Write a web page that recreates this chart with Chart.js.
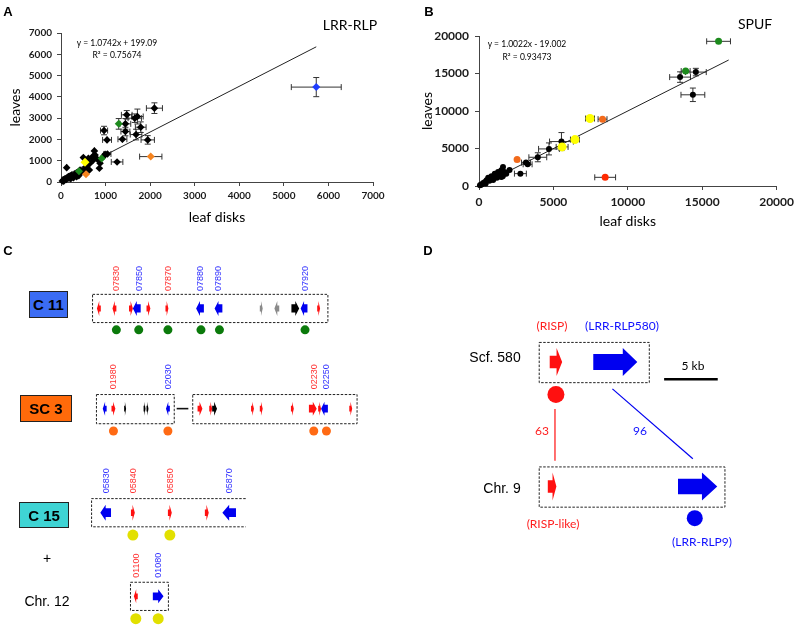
<!DOCTYPE html>
<html><head><meta charset="utf-8">
<script src="https://cdn.jsdelivr.net/npm/chart.js@4.4.1/dist/chart.umd.min.js"></script>
<style>
html,body{margin:0;padding:0;background:#fff;}
#fig{position:relative;width:799px;height:632px;overflow:hidden;background:#fff;font-family:'Liberation Sans',Arial,sans-serif;color:#000;}
canvas{position:absolute;}
.t{position:absolute;white-space:nowrap;transform:translate(-50%,-50%);line-height:1;}
.box{position:absolute;box-sizing:border-box;border:1.5px solid #222;font-weight:bold;font-size:15px;display:flex;align-items:center;justify-content:center;font-family:'Liberation Sans',Arial,sans-serif;}
</style></head>
<body><div id="fig">
<canvas id="cA" width="400" height="230" style="left:0;top:0"></canvas>
<canvas id="cB" width="399" height="230" style="left:400px;top:0"></canvas>
<canvas id="cC" width="400" height="402" style="left:0;top:230px"></canvas>
<canvas id="cD" width="399" height="402" style="left:400px;top:230px"></canvas>
</div>
<script>
// ---------------- DATA ----------------
// Panel A (LRR-RLP): [leaf disks, leaves, xErr, yErr]
const aBlack = [[2096,3469,180,250],[1475,3155,120,200],[1714,3076,130,350],[1655,2998,150,200],[1445,2731,120,250],
 [1789,2574,120,250],[1445,2370,100,200],[966,2417,80,200],[1684,2229,130,250],[1946,1978,150,200],[1033,1978,100,150],
 [1378,2009,100,150],[749,1460,60,150],[502,1146,60,100],[1041,1318,80,120],[1258,942,130,80],[816,1067,60,100],
 [861,644,60,80],[636,565,50,60],[127,675,40,150],[764,1271,50,100],[651,879,50,80],[726,1036,50,80],[352,408,40,50],
 [240,330,30,40],[165,251,30,30],[90,141,20,20],[52,94,15,15],[30,47,10,10],[202,283,30,30],[314,377,30,40],
 [464,487,40,50],[576,722,50,60],[711,1193,60,100],[876,879,60,80],[951,1193,60,80],[614,1114,50,80],[539,644,50,60],
 [427,565,40,60],[280,200,30,30],[120,120,20,20],[180,180,20,20],[400,300,30,30],[350,250,30,30],[220,160,20,20],
 [60,40,10,10],[990,1300,60,100]];
const aGreen = [[1295,2731,60,250],[913,1099,60,100],[404,502,40,50]];
const aYellow = [[539,926,50,80]];
const aOrange = [[2014,1193,250,100],[561,361,40,50]];
const aBlue = [[5727,4458,560,450]];
const aFit = [[0,199],[5727,6351]];          // y = 1.0742x + 199.09
const aTicks = [0,1000,2000,3000,4000,5000,6000,7000];

// Panel B (SPUF)
const bBlack = [[14573,15188,700,500],[13513,14520,700,700],[14374,12160,800,900],[5542,5924,800,1200],[4703,4944,700,800],
 [3952,3830,600,600],[3157,3118,300,300],[3268,2895,300,300],[2782,1648,400,200],[2053,2138,150,150],[1612,2539,100,200],
 [1391,1648,100,150],[1170,1425,100,100],[949,1203,80,100],[729,980,80,80],[508,757,60,60],[287,401,40,40],[132,178,30,30],
 [1501,2093,100,150],[1281,1871,100,100],[1060,1648,100,100],[839,1292,80,80],[618,1114,60,60],[397,534,40,40],[66,89,20,20],
 [1722,1871,100,150],[1833,1648,100,150],[1600,1300,100,100],[1200,1100,80,80],[700,700,60,60],[450,350,40,40],
 [200,250,30,30],[950,800,80,80],[1500,1200,100,100]];
const bGreen = [[16100,19290,800,300],[13888,15322,300,400]];
const bYellow = [[7463,8997,300,450],[6447,6191,300,200],[5586,5211,400,300]];
const bOrange = [[8302,8908,300,200],[2561,3519,100,150]];
const bRed = [[8479,1158,700,200]];
const bFit = [[0,-19],[16780,16798]];        // y = 1.0022x - 19.002
const bTicks = [0,5000,10000,15000,20000];

// Panel C: genes [position, strand, length, family]
const c11Genes = [[96,-1,4,'r'],[112,-1,4,'r'],[129,1,4,'r'],[135,-1,8,'b'],[147,1,4,'r'],[166,1,3,'r'],[200,-1,8,'b'],
 [219,-1,8,'b'],[263,1,3,'g'],[279,-1,5,'g'],[298,1,8,'k'],[307,-1,7,'b'],[322,1,3,'r']];
const c11Ids = [['07830',114,'r'],['07850',137,'b'],['07870',167,'r'],['07880',200,'b'],['07890',219,'b'],['07920',308,'b']];
const c11Hits = [114,137,167,201,220,308];
const sc3Genes = [[102,-1,4,'b'],[111,1,4,'r'],[123,1,2,'k'],[143,1,2,'k'],[146,1,2,'k'],[167,-1,4,'b'],
 [200,1,5,'r'],[211,1,3,'r'],[215,1,5,'k'],[254,1,3,'r'],[263,1,3,'r'],[295,1,3,'r'],[316,1,8,'r'],[323,1,3,'r'],
 [328,-1,7,'b'],[355,1,3,'r']];
const sc3Ids = [['01980',111,'r'],['02030',167,'b'],['02230',317,'r'],['02250',330,'b']];
const sc3Hits = [111,167,317,330];
const c15Genes = [[103,-1,11,'b'],[131,1,4,'r'],[169,1,4,'r'],[207,1,4,'r'],[230,-1,14,'b']];
const c15Ids = [['05830',103,'b'],['05840',131,'r'],['05850',169,'r'],['05870',230,'b']];
const c15Hits = [131,169];
const chr12Genes = [[134,-1,4,'r'],[157,1,11,'b']];
const chr12Ids = [['01100',134,'r'],['01080',157,'b']];
const chr12Hits = [134,157];

// Panel D
const scfGenes = [[554,1,13,'r'],[616,1,46,'b']];
const chr9Genes = [[550,1,9,'r'],[702,1,41,'b']];
const dIdentity = ['63','96'];

// ---------------- LAYOUT / STYLE ----------------
const fig = document.getElementById('fig');
const COL = {r:'#ff1010',b:'#0000f0',k:'#000000',g:'#8a8a8a'};
function txt(x,y,s,st){const d=document.createElement('div');d.className='t';d.textContent=s;
  d.style.left=x+'px';d.style.top=y+'px';Object.assign(d.style,st||{});fig.appendChild(d);return d;}
function box(x,y,w,h,s,bg){const d=document.createElement('div');d.className='box';d.textContent=s;
  Object.assign(d.style,{left:x+'px',top:y+'px',width:w+'px',height:h+'px',background:bg});fig.appendChild(d);}

const errPlugin = {id:'err', beforeDatasetsDraw(chart){
  const ctx=chart.ctx, xs=chart.scales.x, ys=chart.scales.y;
  ctx.save(); ctx.strokeStyle='#333'; ctx.lineWidth=1;
  chart.data.datasets.forEach(ds=>{ if(!ds.err) return;
    ds.data.forEach(p=>{
      const px=xs.getPixelForValue(p.x), py=ys.getPixelForValue(p.y);
      const x1=xs.getPixelForValue(p.x-p.xe), x2=xs.getPixelForValue(p.x+p.xe);
      const y1=ys.getPixelForValue(p.y-p.ye), y2=ys.getPixelForValue(p.y+p.ye);
      ctx.beginPath();
      ctx.moveTo(x1,py);ctx.lineTo(x2,py);ctx.moveTo(px,y1);ctx.lineTo(px,y2);
      if(x2-x1>7){ctx.moveTo(x1,py-3);ctx.lineTo(x1,py+3);ctx.moveTo(x2,py-3);ctx.lineTo(x2,py+3);}
      if(y1-y2>7){ctx.moveTo(px-3,y1);ctx.lineTo(px+3,y1);ctx.moveTo(px-3,y2);ctx.lineTo(px+3,y2);}
      ctx.stroke();
    });
  });
  ctx.restore();
}};

function pts(arr,color,r,style){return {data:arr.map(p=>({x:p[0],y:p[1],xe:p[2],ye:p[3]})),err:true,
  backgroundColor:color,borderColor:color,borderWidth:0,pointRadius:r,pointStyle:style||'circle',clip:false};}
function fitDs(arr){return {type:'line',data:arr.map(p=>({x:p[0],y:p[1]})),showLine:true,borderColor:'#222',
  borderWidth:1,pointRadius:0,fill:false};}

function sci(id,o){
  const tickFont={family:'Lato',size:o.tfs,weight:'bold'};
  const axTitle={family:'Lato',size:14};
  const plain=v=>String(v);
  return new Chart(document.getElementById(id),{
    type:'scatter',
    data:{datasets:o.datasets},
    options:{responsive:false,animation:false,events:[],
      layout:{padding:o.pad},
      plugins:{legend:{display:false},tooltip:{enabled:false}},
      scales:{
        x:{type:'linear',min:0,max:o.ticks[o.ticks.length-1],afterFit:s=>{s.height=o.xh;},
          afterBuildTicks:s=>{s.ticks=o.ticks.map(v=>({value:v}));},
          ticks:{font:tickFont,color:'#1a1a1a',padding:o.txp,maxRotation:0,autoSkip:false,callback:plain},
          grid:{drawOnChartArea:false,tickLength:4,color:'#444',lineWidth:1},
          border:{color:'#444',width:1},
          title:{display:true,text:'leaf disks',font:axTitle,color:'#000',padding:{top:0,bottom:o.xtp}}},
        y:{type:'linear',min:0,max:o.ticks[o.ticks.length-1],afterFit:s=>{s.width=o.yw;},
          afterBuildTicks:s=>{s.ticks=o.ticks.map(v=>({value:v}));},
          ticks:{font:tickFont,color:'#1a1a1a',padding:o.typ,autoSkip:false,callback:plain},
          grid:{drawOnChartArea:false,tickLength:4,color:'#444',lineWidth:1},
          border:{color:'#444',width:1},
          title:{display:true,text:'leaves',font:axTitle,color:'#000',padding:{top:o.ytp,bottom:0}}}
      }},
    plugins:[errPlugin]
  });
}

// ---------- Panel A ----------
sci('cA',{ticks:aTicks,tfs:10,pad:{top:33,right:27,left:0,bottom:0},xh:48,yw:61,txp:4,typ:5,xtp:4,ytp:6.6,
  datasets:[pts(aBlue,'#1f3dff',4,'rectRot'),pts(aOrange,'#f5841f',4,'rectRot'),pts(aYellow,'#ffff00',4.5,'rectRot'),
    pts(aGreen,'#1d8a1d',4,'rectRot'),pts(aBlack,'#000',3.8,'rectRot'),fitDs(aFit)]});
// ---------- Panel B ----------
sci('cB',{ticks:bTicks,tfs:12,pad:{top:36,right:18,left:0,bottom:0},xh:44,yw:79,txp:5,typ:6,xtp:0,ytp:18.6,
  datasets:[pts(bRed,'#ff2a00',3.5),pts(bOrange,'#f26a1b',3.5),pts(bYellow,'#ffff00',4.5),
    pts(bGreen,'#1d8a1d',3.5),pts(bBlack,'#000',3),fitDs(bFit)]});

txt(8,11,'A',{fontWeight:'bold',fontSize:'13px'});
txt(429,11,'B',{fontWeight:'bold',fontSize:'13px'});
txt(350,25,'LRR-RLP',{fontFamily:'Lato',fontSize:'14px'});
txt(755,24,'SPUF',{fontFamily:'Lato',fontSize:'14px'});
txt(117,43,'y = 1.0742x + 199.09',{fontFamily:'Lato',fontSize:'8.5px'});
txt(117,55,'R² = 0.75674',{fontFamily:'Lato',fontSize:'8.5px'});
txt(527,44,'y = 1.0022x - 19.002',{fontFamily:'Lato',fontSize:'8.5px'});
txt(527,57,'R² = 0.93473',{fontFamily:'Lato',fontSize:'8.5px'});

// ---------- gene drawing ----------
function geneShape(ctx,x0,x1,cy,h,dir,shaft,headFrac){
  const w=x1-x0, hh=h/2, hs=h*shaft/2, hl=w*headFrac;
  ctx.beginPath();
  if(dir>0){const xb=x1-hl;
    ctx.moveTo(x0,cy-hs);ctx.lineTo(xb,cy-hs);ctx.lineTo(xb,cy-hh);ctx.lineTo(x1,cy);ctx.lineTo(xb,cy+hh);ctx.lineTo(xb,cy+hs);ctx.lineTo(x0,cy+hs);
  } else {const xb=x0+hl;
    ctx.moveTo(x1,cy-hs);ctx.lineTo(xb,cy-hs);ctx.lineTo(xb,cy-hh);ctx.lineTo(x0,cy);ctx.lineTo(xb,cy+hh);ctx.lineTo(xb,cy+hs);ctx.lineTo(x1,cy+hs);
  }
  ctx.closePath();ctx.fill();
}
function dashedBox(ctx,xs,ys,b,openRight){
  const x1=xs.getPixelForValue(b[0]),x2=xs.getPixelForValue(b[1]),y1=ys.getPixelForValue(b[2]),y2=ys.getPixelForValue(b[3]);
  ctx.save();ctx.strokeStyle='#222';ctx.lineWidth=1;ctx.setLineDash([2.5,1.5]);ctx.beginPath();
  if(openRight){ctx.moveTo(x2,y1+0.5);ctx.lineTo(x1+0.5,y1+0.5);ctx.lineTo(x1+0.5,y2+0.5);ctx.lineTo(x2,y2+0.5);}
  else ctx.rect(x1+0.5,y1+0.5,x2-x1,y2-y1);
  ctx.stroke();ctx.restore();
}
function drawTrack(chart,genes,cy,h,opt){
  const ctx=chart.ctx,xs=chart.scales.x,ys=chart.scales.y;
  genes.forEach(g=>{
    const big=g[2]>=7;
    ctx.fillStyle=COL[g[3]];
    geneShape(ctx,xs.getPixelForValue(g[0]-g[2]/2),xs.getPixelForValue(g[0]+g[2]/2),ys.getPixelForValue(cy),h,g[1],
      opt&&opt.shaft||(big?0.55:0.4),opt&&opt.head||(big?0.5:0.6));
  });
}
function drawIds(chart,ids,yb){
  const ctx=chart.ctx,xs=chart.scales.x,ys=chart.scales.y;
  ctx.save();ctx.font='9px "Liberation Sans", Arial, sans-serif';ctx.textBaseline='middle';ctx.textAlign='left';
  ids.forEach(d=>{ctx.save();ctx.translate(xs.getPixelForValue(d[1]),ys.getPixelForValue(yb));ctx.rotate(-Math.PI/2);
    ctx.fillStyle=d[2]==='r'?'#ff3030':'#3030ff';ctx.fillText(d[0],0,0.5);ctx.restore();});
  ctx.restore();
}
const layoutScales={x:{type:'linear',display:false,min:0,max:400},y:{type:'linear',display:false,min:230,max:632,reverse:true}};

// ---------- Panel C ----------
const cPlugin={id:'genesC',beforeDatasetsDraw(chart){
  const ctx=chart.ctx,xs=chart.scales.x,ys=chart.scales.y;
  dashedBox(ctx,xs,ys,[89,331,290,319]);
  dashedBox(ctx,xs,ys,[93,173,393,423]);
  dashedBox(ctx,xs,ys,[192,361,393,423]);
  dashedBox(ctx,xs,ys,[88,247,500,529],true);
  dashedBox(ctx,xs,ys,[128,167,586,615]);
  ctx.save();ctx.strokeStyle='#111';ctx.lineWidth=1.6;ctx.beginPath();
  ctx.moveTo(xs.getPixelForValue(176),ys.getPixelForValue(408));ctx.lineTo(xs.getPixelForValue(188),ys.getPixelForValue(408));ctx.stroke();ctx.restore();
  drawTrack(chart,c11Genes,305,15);
  drawTrack(chart,sc3Genes,408,14);
  drawTrack(chart,c15Genes,515,16);
  drawTrack(chart,chr12Genes,601,14);
  drawIds(chart,c11Ids,287);
  drawIds(chart,sc3Ids,388);
  drawIds(chart,c15Ids,495);
  drawIds(chart,chr12Ids,582);
}};
function dots(xsArr,y,color,r){return {data:xsArr.map(x=>({x:x,y:y})),backgroundColor:color,borderWidth:0,pointRadius:r,clip:false};}
new Chart(document.getElementById('cC'),{type:'scatter',
  data:{datasets:[dots(c11Hits,327,'#0b7a0b',4.5),dots(sc3Hits,431,'#ff6a14',4.5),
    dots(c15Hits,538,'#e2e000',5.5),dots(chr12Hits,624,'#e2e000',5.5)]},
  options:{responsive:false,animation:false,events:[],layout:{padding:0},
    plugins:{legend:{display:false},tooltip:{enabled:false}},scales:layoutScales},
  plugins:[cPlugin]});

txt(8,250,'C',{fontWeight:'bold',fontSize:'13px'});
box(29,291,39,27,'C 11','#3b6cf4');
box(20,395,52,27,'SC 3','#ff6a0a');
box(19,502,50,26,'C 15','#3fd4d4');
txt(47,558,'+',{fontSize:'14px'});
txt(47,601,'Chr. 12',{fontSize:'14px'});

// ---------- Panel D ----------
const dScales={x:{type:'linear',display:false,min:400,max:799},y:{type:'linear',display:false,min:230,max:632,reverse:true}};
const dPlugin={id:'genesD',beforeDatasetsDraw(chart){
  const ctx=chart.ctx,xs=chart.scales.x,ys=chart.scales.y;
  dashedBox(ctx,xs,ys,[536,651,338,380]);
  dashedBox(ctx,xs,ys,[536,730,468,510]);
  ctx.fillStyle=COL.r; geneShape(ctx,xs.getPixelForValue(547.5),xs.getPixelForValue(560.5),ys.getPixelForValue(359),28,1,0.45,0.45);
  ctx.fillStyle=COL.b; geneShape(ctx,xs.getPixelForValue(593),xs.getPixelForValue(639),ys.getPixelForValue(359),28,1,0.57,0.33);
  ctx.fillStyle=COL.r; geneShape(ctx,xs.getPixelForValue(545.5),xs.getPixelForValue(554.5),ys.getPixelForValue(489),28,1,0.45,0.45);
  ctx.fillStyle=COL.b; geneShape(ctx,xs.getPixelForValue(681.5),xs.getPixelForValue(722.5),ys.getPixelForValue(489),28,1,0.55,0.39);
}};
new Chart(document.getElementById('cD'),{type:'scatter',
  data:{datasets:[
    {data:[{x:554,y:393}],backgroundColor:'#ff1010',borderWidth:0,pointRadius:8.5,clip:false},
    {data:[{x:699,y:522}],backgroundColor:'#0000f0',borderWidth:0,pointRadius:8,clip:false},
    {type:'line',data:[{x:553,y:408},{x:553,y:462}],showLine:true,borderColor:'#ff1010',borderWidth:1.2,pointRadius:0},
    {type:'line',data:[{x:613,y:387},{x:697,y:460}],showLine:true,borderColor:'#0000f0',borderWidth:1.2,pointRadius:0},
    {type:'line',data:[{x:667,y:377},{x:723,y:377}],showLine:true,borderColor:'#000',borderWidth:2.5,pointRadius:0}
  ]},
  options:{responsive:false,animation:false,events:[],layout:{padding:0},
    plugins:{legend:{display:false},tooltip:{enabled:false}},scales:dScales},
  plugins:[dPlugin]});

txt(428,250,'D',{fontWeight:'bold',fontSize:'13px'});
txt(495,357,'Scf. 580',{fontSize:'14px'});
txt(502,488,'Chr. 9',{fontSize:'14px'});
const lf={fontFamily:'Lato',fontSize:'12px'};
txt(552,326,'(RISP)',Object.assign({color:'#ff2020'},lf));
txt(622,326,'(LRR-RLP580)',Object.assign({color:'#1010ff'},lf));
txt(693,366,'5 kb',Object.assign({color:'#000'},lf));
txt(542,431,dIdentity[0],Object.assign({color:'#ff2020'},lf));
txt(640,431,dIdentity[1],Object.assign({color:'#1010ff'},lf));
txt(553,524,'(RISP-like)',Object.assign({color:'#ff2020'},lf));
txt(702,542,'(LRR-RLP9)',Object.assign({color:'#1010ff'},lf));
</script>
</body></html>
